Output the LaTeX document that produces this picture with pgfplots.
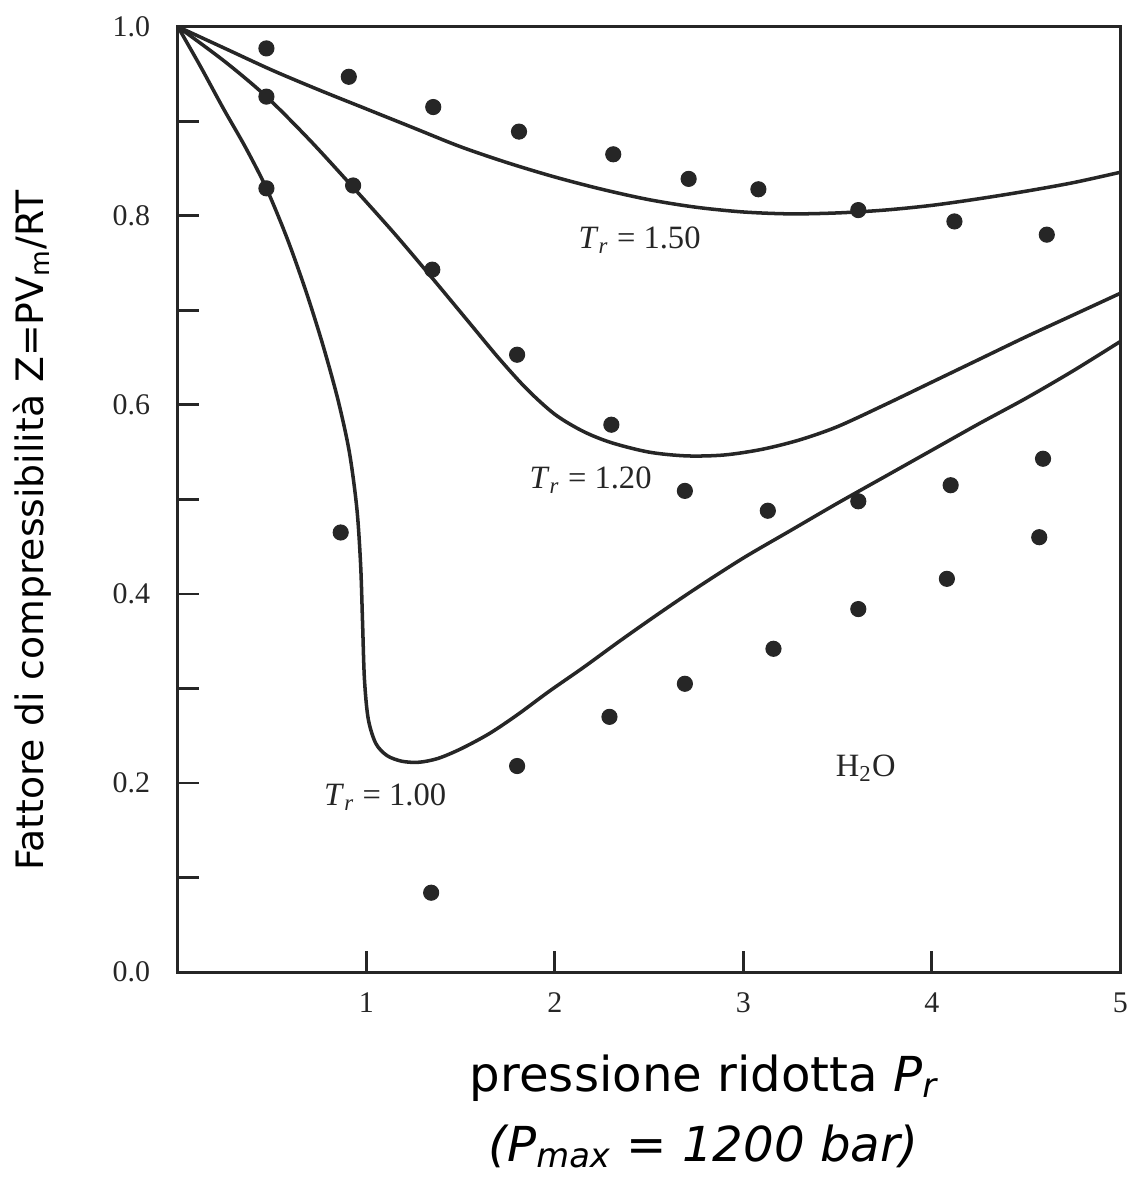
\documentclass[border=0pt]{standalone}
\usepackage{fontspec}
\setmainfont{Liberation Serif}
\newfontfamily\labfont{DejaVu Sans}
\usepackage{pgfplots}
\pgfplotsset{compat=1.18}
\definecolor{ink}{HTML}{262626}

\begin{document}
\begin{tikzpicture}
\useasboundingbox (-2.40cm,-2.90cm) rectangle (12.80cm,13.12cm);
\begin{axis}[
  scale only axis,
  width=12.72cm, height=12.76cm,
  xmin=0, xmax=5, ymin=0, ymax=1,
  xtick={1,2,3,4,5},
  ytick={0,0.2,0.4,0.6,0.8,1.0},
  minor ytick={0.1,0.3,0.5,0.7,0.9},
  yticklabel style={/pgf/number format/fixed, /pgf/number format/fixed zerofill, /pgf/number format/precision=1, xshift=-0.25cm},
  xticklabel style={yshift=-0.15cm},
  /pgf/number format/assume math mode=true,
  ticklabel style={font=\fontsize{11.5}{13}\selectfont, text=ink},
  tick align=inside, tick pos=left,
  major tick length=0.28cm, minor tick length=0.28cm,
  every tick/.style={line width=1.1pt, ink},
  axis line style={line width=1.2pt, ink},
  xlabel={pressione ridotta \textit{P\textsubscript{r}}\\ \textit{(P\textsubscript{max} = 1200 bar)}},
  xlabel style={at={(axis description cs:0.558,0)}, anchor=center, yshift=-1.88cm, align=center,
    font=\labfont\fontsize{18.5}{26.9}\selectfont},
  ylabel={Fattore di compressibilità Z=PV\textsubscript{m}/RT},
  ylabel style={at={(axis description cs:-0.154,0.467)}, anchor=center,
    font=\labfont\fontsize{14.5}{17}\selectfont},
]
% T_r = 1.50
\addplot[smooth, line width=1.35pt, ink] coordinates {
  (0,1.0) (0.25,0.977) (0.5,0.954) (0.75,0.933) (1.0,0.913) (1.25,0.893)
  (1.5,0.873) (1.75,0.856) (2.0,0.841) (2.25,0.828) (2.5,0.817) (2.75,0.809)
  (3.0,0.804) (3.25,0.802) (3.5,0.803) (3.75,0.806) (4.0,0.811) (4.25,0.818)
  (4.5,0.826) (4.75,0.835) (5.0,0.846)};
% T_r = 1.20
\addplot[smooth, line width=1.35pt, ink] coordinates {
  (0,1.0) (0.25,0.963) (0.47,0.926) (0.7,0.880) (0.93,0.830) (1.15,0.781)
  (1.35,0.734) (1.55,0.686) (1.7,0.650) (1.85,0.617) (2.0,0.590) (2.15,0.572)
  (2.3,0.560) (2.5,0.550) (2.7,0.546) (2.9,0.547) (3.1,0.553) (3.3,0.563)
  (3.5,0.577) (3.75,0.600) (4.0,0.624) (4.25,0.648) (4.5,0.672) (4.75,0.695)
  (5.0,0.718)};
% T_r = 1.00
\addplot[smooth, tension=0.5, line width=1.35pt, ink] coordinates {
  (0,1.0) (0.12,0.958) (0.24,0.914) (0.36,0.872) (0.47,0.829) (0.58,0.776)
  (0.68,0.720) (0.77,0.663) (0.85,0.605) (0.91,0.550) (0.95,0.490)
  (0.97,0.430) (0.98,0.370) (0.99,0.310) (1.01,0.268) (1.05,0.242)
  (1.11,0.229) (1.19,0.223) (1.28,0.222) (1.38,0.226) (1.5,0.236)
  (1.65,0.252) (1.8,0.272) (1.97,0.297) (2.15,0.322) (2.35,0.351)
  (2.55,0.379) (2.75,0.406) (3.0,0.438) (3.25,0.467) (3.5,0.496)
  (3.75,0.524) (4.0,0.552) (4.25,0.580) (4.5,0.607) (4.75,0.636) (5.0,0.667)};
% experimental points
\addplot[only marks, mark=*, mark size=2.9pt, ink] coordinates {
  (0.47,0.977) (0.907,0.947) (1.355,0.915) (1.81,0.889) (2.31,0.865)
  (2.71,0.839) (3.08,0.828) (3.61,0.806) (4.12,0.794) (4.61,0.780)};
\addplot[only marks, mark=*, mark size=2.9pt, ink] coordinates {
  (0.47,0.926) (0.93,0.832) (1.35,0.743) (1.80,0.653) (2.30,0.579)
  (2.69,0.509) (3.13,0.488) (3.61,0.498) (4.10,0.515) (4.59,0.543)};
\addplot[only marks, mark=*, mark size=2.9pt, ink] coordinates {
  (0.47,0.829) (0.864,0.465) (1.344,0.084) (1.80,0.218) (2.29,0.270)
  (2.69,0.305) (3.16,0.342) (3.61,0.384) (4.08,0.416) (4.57,0.460)};
\node[text=ink, font=\fontsize{12.5}{14}\selectfont] at (axis cs:2.45,0.774) {\textit{T}\textsubscript{\textit{r}} = 1.50};
\node[text=ink, font=\fontsize{12.5}{14}\selectfont] at (axis cs:2.19,0.520) {\textit{T}\textsubscript{\textit{r}} = 1.20};
\node[text=ink, font=\fontsize{12.5}{14}\selectfont] at (axis cs:1.10,0.185) {\textit{T}\textsubscript{\textit{r}} = 1.00};
\node[text=ink, font=\fontsize{12.5}{14}\selectfont] at (axis cs:3.65,0.216) {H\textsubscript{2}O};
\end{axis}
\end{tikzpicture}
\end{document}
